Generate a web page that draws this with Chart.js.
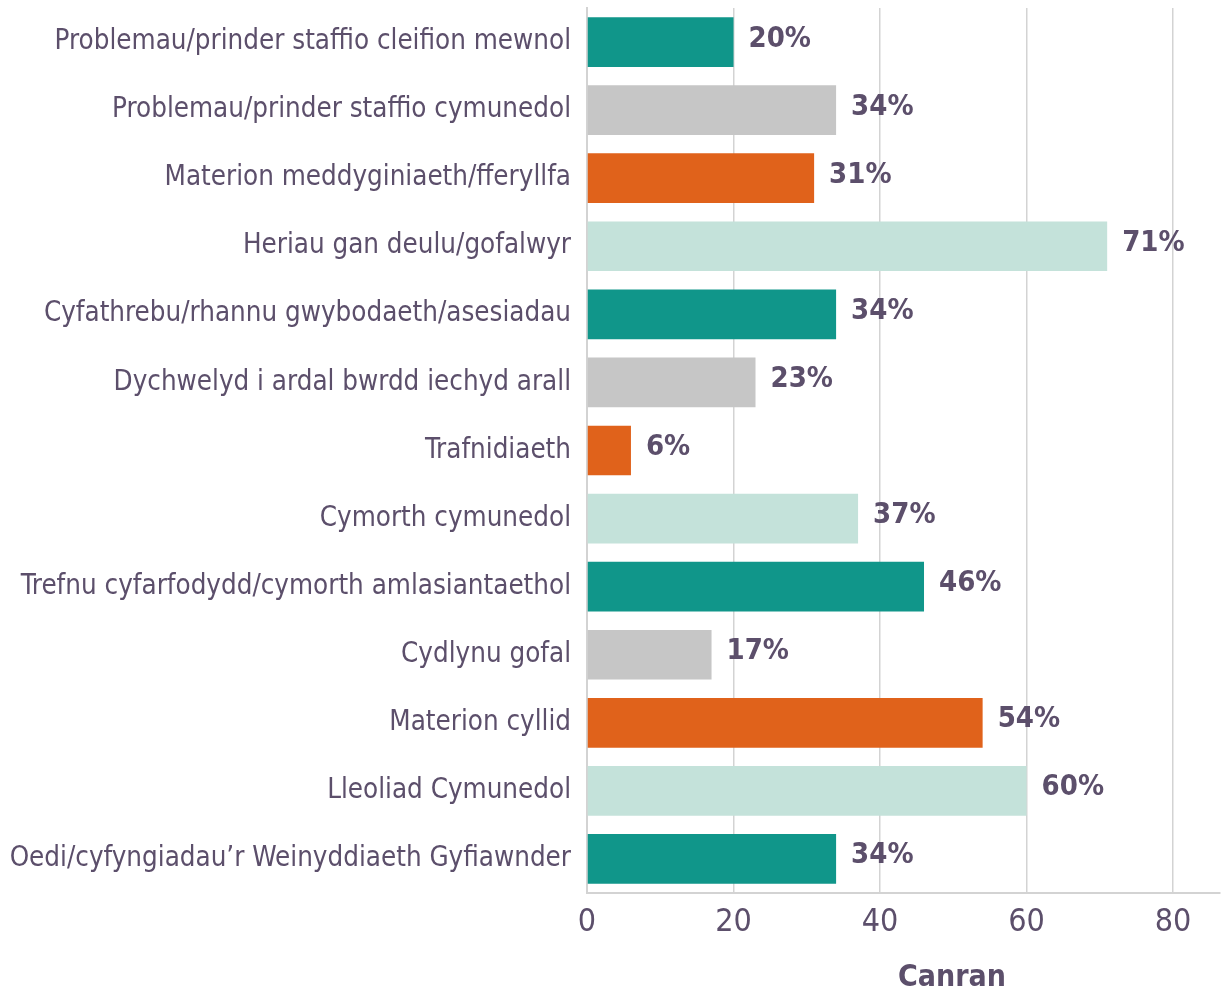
<!DOCTYPE html>
<html>
<head>
<meta charset="utf-8">
<script src="https://cdn.jsdelivr.net/npm/chart.js@4"></script>
<style>
  html, body { margin: 0; padding: 0; background: #fff; }
  #wrap { width: 1222px; height: 996px; }
</style>
</head>
<body>
<div id="wrap"><canvas id="barChart" width="1222" height="996"></canvas></div>
<script>
// Categories and values (percent)
const categories = [
    'Problemau/prinder staffio cleifion mewnol',
    'Problemau/prinder staffio cymunedol',
    'Materion meddyginiaeth/fferyllfa',
    'Heriau gan deulu/gofalwyr',
    'Cyfathrebu/rhannu gwybodaeth/asesiadau',
    'Dychwelyd i ardal bwrdd iechyd arall',
    'Trafnidiaeth',
    'Cymorth cymunedol',
    'Trefnu cyfarfodydd/cymorth amlasiantaethol',
    'Cydlynu gofal',
    'Materion cyllid',
    'Lleoliad Cymunedol',
    'Oedi/cyfyngiadau\u2019r Weinyddiaeth Gyfiawnder'
];
const percents = [20, 34, 31, 71, 34, 23, 6, 37, 46, 17, 54, 60, 34];
const xTicks = [0, 20, 40, 60, 80];
const xTitle = 'Canran';

const palette = ['#10968A', '#C6C6C6', '#E0621B', '#C4E2DA'];
const textColor = '#5C4F6B';
const fontFamily = "'Liberation Sans Narrow', 'DejaVu Sans Condensed', 'Open Sans', sans-serif";

// Value labels at the end of each bar, plus the axis title
const valueLabels = {
    id: 'valueLabels',
    afterDatasetsDraw(chart) {
        const ctx = chart.ctx;
        const meta = chart.getDatasetMeta(0);
        ctx.save();
        ctx.fillStyle = textColor;
        ctx.font = "bold 29px " + fontFamily;
        ctx.textAlign = 'left';
        ctx.textBaseline = 'middle';
        meta.data.forEach((bar, i) => {
            ctx.fillText(percents[i] + '%', bar.x + 15, bar.y - 3);
        });
        ctx.font = "bold 30px " + fontFamily;
        ctx.textAlign = 'center';
        ctx.fillText(xTitle, 952, 978);
        ctx.restore();
    }
};

const ctx1 = document.getElementById('barChart').getContext('2d');
const barChart = new Chart(ctx1, {
    type: 'bar',
    data: {
        labels: categories,
        datasets: [{
            data: percents,
            backgroundColor: categories.map((c, i) => palette[i % palette.length]),
            barPercentage: 0.73,
            categoryPercentage: 1
        }]
    },
    options: {
        indexAxis: 'y',
        responsive: false,
        animation: false,
        layout: { padding: { left: 0, right: 2, top: 8, bottom: 0 } },
        plugins: {
            legend: { display: false },
            tooltip: { enabled: false }
        },
        scales: {
            x: {
                min: 0,
                max: 86.4,
                afterBuildTicks(scale) {
                    scale.ticks = xTicks.map(v => ({ value: v }));
                },
                afterFit(scale) {
                    scale.height = 103;
                    scale.paddingLeft = 0;
                    scale.paddingRight = 0;
                },
                grid: { color: '#D3D3D3', lineWidth: 1.5, drawTicks: false },
                border: { color: '#D3D3D3', width: 2 },
                ticks: {
                    color: textColor,
                    padding: 10,
                    font: { family: fontFamily, size: 32 }
                }
            },
            y: {
                afterFit(scale) {
                    scale.width = 587;
                    scale.paddingTop = 0;
                    scale.paddingBottom = 0;
                },
                grid: { display: false, drawTicks: false },
                border: { color: '#D3D3D3', width: 2 },
                ticks: {
                    color: textColor,
                    padding: 16,
                    font: { family: fontFamily, size: 27.5 }
                }
            }
        }
    },
    plugins: [valueLabels]
});
</script>
</body>
</html>
